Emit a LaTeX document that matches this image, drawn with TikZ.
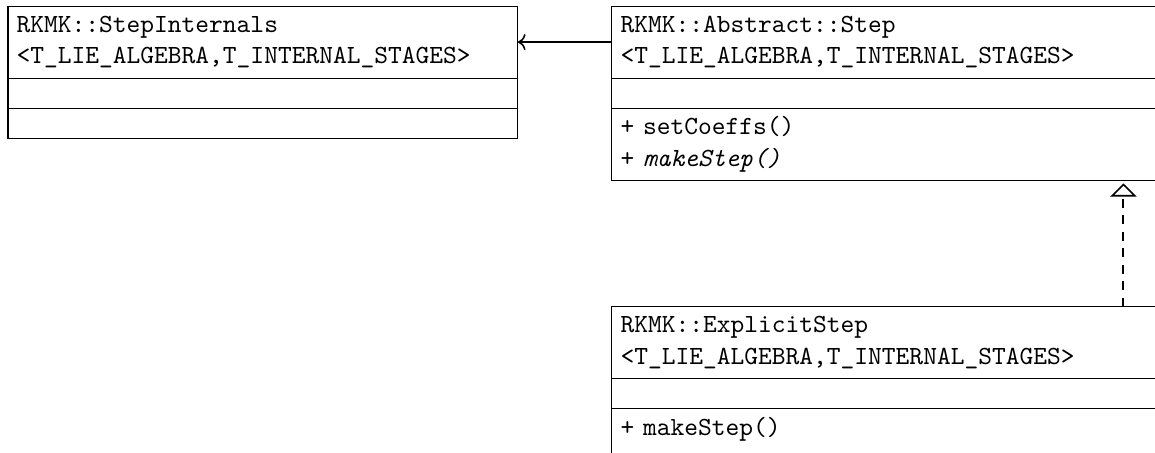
\documentclass[tikz,border=0pt]{standalone}
\usetikzlibrary{arrows.meta,positioning}

\begin{document}
\begin{tikzpicture}[node distance=0pt,>=To,
  classbox/.style={draw,outer sep=0pt,font=\ttfamily,align=left,
    inner sep=3.3pt,text width=188pt,minimum height=11.45pt},
  classname/.style={classbox,minimum height=27.5pt},
  widebox/.style={classbox,text width=383.8pt},
  widename/.style={classname,text width=383.8pt},
  assoc/.style={->,semithick},
  implements/.style={dash pattern=on 3.3pt off 3pt,thick,shorten >=1pt,
    -{Triangle[open,length=5pt,width=10pt,line width=0.6pt]}}]
\clip (0,0) rectangle (440.8pt,-172.5pt);
\node[classname,anchor=north west] (internals) at (3.05pt,-2.3pt)
  {RKMK::StepInternals\\<T\_LIE\_ALGEBRA,T\_INTERNAL\_STAGES>};
\node[classbox,below=of internals] (internalsattr) {};
\node[classbox,below=of internalsattr] (internalsops) {};
\node[widename,right=35.9pt of internals] (abstract)
  {RKMK::Abstract::Step\\<T\_LIE\_ALGEBRA,T\_INTERNAL\_STAGES>};
\node[widebox,below=of abstract] (abstractattr) {};
\node[widebox,below=of abstractattr] (abstractops)
  {+ setCoeffs()\\+ \textit{makeStep()}};
\node[widename,below=48pt of abstractops] (explicit)
  {RKMK::ExplicitStep\\<T\_LIE\_ALGEBRA,T\_INTERNAL\_STAGES>};
\node[widebox,below=of explicit] (explicitattr) {};
\node[widebox,below=of explicitattr,minimum height=27.5pt,text depth=14pt]
  (explicitops) {+ makeStep()};
\draw[assoc] (abstract) -- (internals);
\draw[implements] (explicit) -- (abstractops);
\end{tikzpicture}
\end{document}
